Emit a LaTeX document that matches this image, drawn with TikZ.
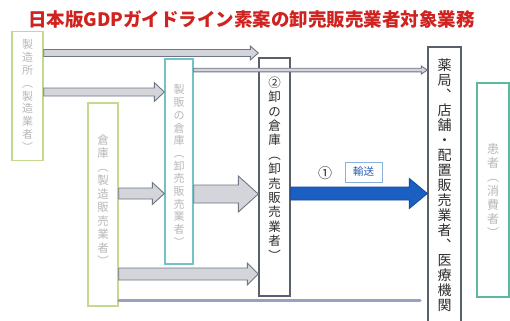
\documentclass[tikz,border=0pt]{standalone}
\usepackage{fontspec}
\setmainfont{Noto Sans CJK JP}
\usetikzlibrary{calc}
\definecolor{titlered}{HTML}{D0221E}
\definecolor{lgreen}{HTML}{C5D98E}
\definecolor{teal1}{HTML}{74C2C6}
\definecolor{teal2}{HTML}{5DB89E}
\definecolor{darkb}{HTML}{59606A}
\definecolor{ltext}{HTML}{B8B8B8}
\definecolor{dtext}{HTML}{2E2E2E}
\definecolor{arfill}{HTML}{D3D5DA}
\definecolor{arline}{HTML}{6E7585}
\definecolor{bluefill}{HTML}{1B5FC2}
\definecolor{blueline}{HTML}{154C9C}
\definecolor{lineblue}{HTML}{9AA0C2}
\definecolor{tagblue}{HTML}{2A5DB0}
\definecolor{tagline}{HTML}{8AB0DC}
\newcommand\blockarr[7]{%
  \path[#7] let \p1=(#1), \p2=(#2), \p3=(0,#3) in
    (\x1,\y3+#4) -- (\x2-#6,\y3+#4) -- (\x2-#6,\y3+#5) -- (\x2,\y3)
    -- (\x2-#6,\y3-#5) -- (\x2-#6,\y3-#4) -- (\x1,\y3-#4) -- cycle;}
\tikzset{
  vbox/.style={draw, line width=1.4bp, inner sep=0, fill=white},
  vtext/.style={inner sep=0, align=center},
  grayarr/.style={fill=arfill, draw=arline, line width=0.9bp, line join=miter},
  bluearr/.style={fill=bluefill, draw=blueline, line width=0.9bp},
}
\begin{document}
\begin{tikzpicture}[x=1bp,y=-1bp]
\clip (0,0) rectangle (510,320);
\fill[white] (0,0) rectangle (510,320);
% title
\node[inner sep=0, text=titlered, font=\fontsize{18.5bp}{18.5bp}\selectfont\bfseries] (title) at (251.5,19) {日本版GDPガイドライン素案の卸売販売業者対象業務};
% boxes
\node[vbox, draw=lgreen, minimum width=31bp, minimum height=129bp] (b1) at (27.5,96) {};
\node[vbox, draw=lgreen, minimum width=30bp, minimum height=203bp] (b2) at (103,204.5) {};
\node[vbox, draw=teal1, minimum width=28bp, minimum height=205bp] (b3) at (179,161.5) {};
\node[vbox, draw=darkb, minimum width=31bp, minimum height=238bp] (b4) at (274.5,177) {};
\node[vbox, draw=darkb, minimum width=33bp, minimum height=290bp] (b5) at (444.5,192) {};
\node[vbox, draw=teal2, minimum width=32bp, minimum height=214bp] (b6) at (493,190) {};
% box texts
\node[vtext, text=ltext, font=\fontsize{11bp}{12.8bp}\selectfont] (t1) at (27.5,95.5) {製\\造\\所\\︵\\製\\造\\業\\者\\︶};
\node[vtext, text=ltext, font=\fontsize{11.5bp}{13.5bp}\selectfont] (t2) at (103,200) {倉\\庫\\︵\\製\\造\\販\\売\\業\\者\\︶};
\node[vtext, text=ltext, font=\fontsize{11bp}{12.7bp}\selectfont] (t3) at (179,165.5) {製\\販\\の\\倉\\庫\\︵\\卸\\売\\販\\売\\業\\者\\︶};
\node[vtext, text=dtext, font=\fontsize{12.5bp}{14.4bp}\selectfont] (t4) at (274.5,168.5) {②\\卸\\の\\倉\\庫\\︵\\卸\\売\\販\\売\\業\\者\\︶};
\node[vtext, text=dtext, font=\fontsize{14bp}{15bp}\selectfont] (t5) at (444.5,185.5) {薬\\局\\︑\\店\\舗\\・\\配\\置\\販\\売\\業\\者\\︑\\医\\療\\機\\関};
\node[vtext, text=ltext, font=\fontsize{12bp}{14bp}\selectfont] (t6) at (493,190) {患\\者\\︵\\消\\費\\者\\︶};
% arrows
\blockarr{b1.east}{b4.west}{53}{3.5bp}{7bp}{8bp}{grayarr}
\blockarr{b1.east}{b3.west}{92}{4bp}{9.5bp}{10bp}{grayarr}
\blockarr{b3.east}{b5.west}{70}{1.8bp}{4bp}{6bp}{grayarr}
\blockarr{b2.east}{b3.west}{193.5}{5.5bp}{11bp}{12bp}{grayarr}
\blockarr{b3.east}{b4.west}{194}{9bp}{18bp}{20bp}{grayarr}
\blockarr{b2.east}{b4.west}{274}{6bp}{11bp}{11bp}{grayarr}
\blockarr{b4.east}{b5.west}{193.5}{6.5bp}{15bp}{18bp}{bluearr}
\coordinate (gend) at (420,300);
\draw[lineblue, line width=3bp, line cap=round] (b2.east |- gend) -- (gend);
% labels
\node[inner sep=0, text=dtext, font=\fontsize{14bp}{14bp}\selectfont] (n1) at (325,173) {①};
\node[draw=tagline, line width=1bp, text=tagblue, minimum width=37bp, minimum height=20bp, inner sep=0, font=\fontsize{10.5bp}{10.5bp}\selectfont] (yuso) at (363.5,172) {輸送};
\end{tikzpicture}
\end{document}
